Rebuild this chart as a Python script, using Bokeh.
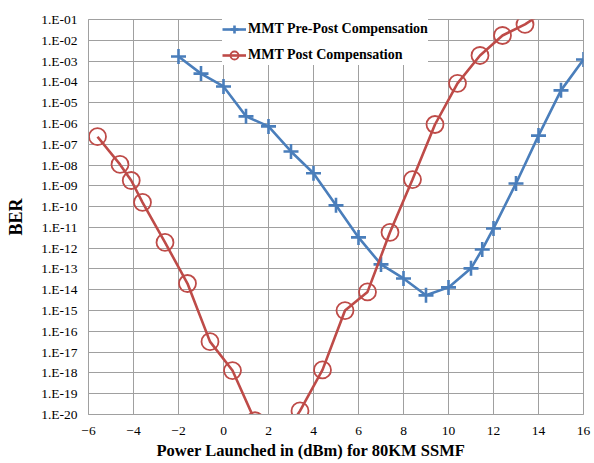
from bokeh.plotting import figure
from bokeh.models import (FixedTicker, CustomJSTickFormatter, Legend, LegendItem,
                          Range1d, Title, ColumnDataSource)
from bokeh.embed import file_html
from bokeh.resources import INLINE

# ---- data ----
x_ticks = [-6, -4, -2, 0, 2, 4, 6, 8, 10, 12, 14, 16]
ber_exponents = [-20, -19, -18, -17, -16, -15, -14, -13, -12, -11,
                 -10, -9, -8, -7, -6, -5, -4, -3, -2, -1]
y_tick_labels = ["1.E-20", "1.E-19", "1.E-18", "1.E-17", "1.E-16", "1.E-15",
                 "1.E-14", "1.E-13", "1.E-12", "1.E-11", "1.E-10", "1.E-09",
                 "1.E-08", "1.E-07", "1.E-06", "1.E-05", "1.E-04", "1.E-03",
                 "1.E-02", "1.E-01"]

prepost_power = [-2, -1, 0, 1, 2, 3, 4, 5, 6, 7, 8, 9, 10, 11, 11.5, 12, 13, 14, 15, 16]
prepost_ber = [1.66e-3, 2.5e-4, 6.0e-5, 2.2e-6, 7.2e-7, 4.5e-8, 4.0e-9, 1.15e-10,
               3.3e-12, 1.66e-13, 3.5e-14, 5.4e-15, 1.3e-14, 1.07e-13, 8.7e-13,
               8.9e-12, 1.3e-9, 2.6e-7, 3.9e-5, 1.2e-3]

post_power = [-5.6, -4.6, -4.1, -3.6, -2.6, -1.6, -0.6, 0.4, 1.4, 2.4, 3.4, 4.4,
              5.4, 6.4, 7.4, 8.4, 9.4, 10.4, 11.4, 12.4, 13.4, 14.4]
post_ber = [2.3e-7, 1.07e-8, 1.8e-9, 1.6e-10, 1.9e-12, 2.0e-14, 3.2e-17, 1.3e-18,
            5e-21, 3e-22, 1.5e-20, 1.4e-18, 1.0e-15, 7.9e-15, 5.8e-12, 2.0e-9,
            8.9e-7, 8.5e-5, 1.86e-3, 1.7e-2, 5.8e-2, 3.0e-1]

series_names = ["MMT Pre-Post Compensation", "MMT Post Compensation"]
x_title = "Power Launched in (dBm) for 80KM SSMF"
y_title = "BER"

BLUE = "#4A7EBB"
RED = "#BE4B48"
GRID = "#A0A0A0"
SERIF = "Liberation Serif"

p = figure(width=594, height=463, output_backend="svg", toolbar_location=None,
           y_axis_type="log",
           x_range=Range1d(-6, 16), y_range=Range1d(1e-20, 1e-1),
           min_border_left=88, min_border_right=11, min_border_top=19,
           min_border_bottom=49)

p.outline_line_color = GRID
p.background_fill_color = "white"

# axes
p.xaxis.ticker = FixedTicker(ticks=x_ticks)
p.yaxis.ticker = FixedTicker(ticks=[10.0 ** e for e in ber_exponents])
p.yaxis.formatter = CustomJSTickFormatter(
    args=dict(labels=y_tick_labels, exps=ber_exponents),
    code="""
const e = Math.round(Math.log10(tick));
const i = exps.indexOf(e);
return i >= 0 ? labels[i] : '';
""")
for ax in (p.xaxis, p.yaxis):
    ax.major_tick_out = 0
    ax.major_tick_in = 0
    ax.minor_tick_out = 0
    ax.minor_tick_in = 0
    ax.axis_line_color = GRID
    ax.major_label_text_font = SERIF
    ax.major_label_text_font_size = "13.5px"
    ax.major_label_text_color = "black"
p.xaxis.major_label_standoff = 12
p.yaxis.major_label_standoff = 11

p.yaxis.axis_label = y_title
p.yaxis.axis_label_text_font = SERIF
p.yaxis.axis_label_text_font_style = "bold"
p.yaxis.axis_label_text_font_size = "18px"
p.yaxis.axis_label_text_color = "black"
p.yaxis.axis_label_standoff = 12

p.add_layout(Title(text=x_title, align="left", offset=68,
                   text_font=SERIF, text_font_style="bold",
                   text_font_size="16.5px", text_color="black",
                   standoff=2), "below")

# grids
p.xgrid.grid_line_color = GRID
p.ygrid.grid_line_color = GRID
p.ygrid.minor_grid_line_color = None
p.xgrid.grid_line_width = 1
p.ygrid.grid_line_width = 1

src_a = ColumnDataSource(dict(x=prepost_power, y=prepost_ber))
src_b = ColumnDataSource(dict(x=post_power, y=post_ber))

la = p.line("x", "y", source=src_a, line_color=BLUE, line_width=2.6)
ma = p.scatter("x", "y", source=src_a, marker="cross", size=15,
               line_color=BLUE, line_width=2.6)
lb = p.line("x", "y", source=src_b, line_color=RED, line_width=2.6)
mb = p.scatter("x", "y", source=src_b, marker="circle", size=17,
               line_color=RED, line_width=1.8, fill_alpha=0)

legend = Legend(items=[LegendItem(label=series_names[0], renderers=[la, ma]),
                       LegendItem(label=series_names[1], renderers=[lb, mb])],
                location=(134, 349), margin=0, padding=5, spacing=6,
                label_height=20, glyph_height=20, glyph_width=24,
                label_standoff=2, border_line_color=None,
                background_fill_color="white", background_fill_alpha=1,
                label_text_font=SERIF, label_text_font_style="bold",
                label_text_font_size="14px", label_text_color="black")
p.add_layout(legend, "center")

open("out.html", "w").write(file_html(p, INLINE))
